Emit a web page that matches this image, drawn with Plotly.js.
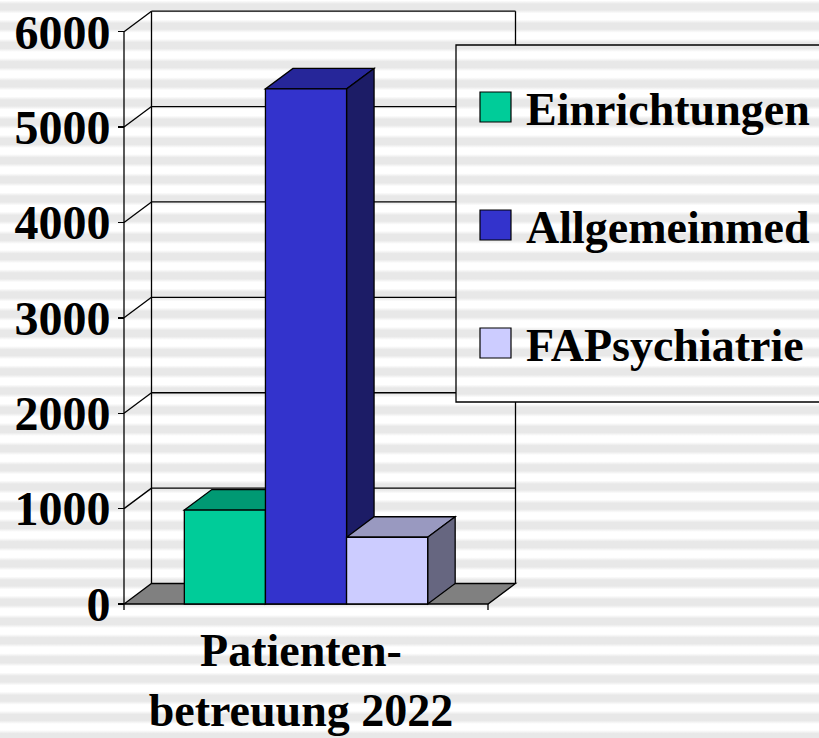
<!DOCTYPE html>
<html>
<head>
<meta charset="utf-8">
<script src="https://cdn.plot.ly/plotly-3.0.1.min.js"></script>
<style>
html, body { margin: 0; padding: 0; }
body {
  width: 819px; height: 738px; overflow: hidden;
  background: repeating-linear-gradient(to bottom,
    #ffffff 0px, #ffffff 0.5px, #e8e8e8 4px, #e8e8e8 10px, #ffffff 13.5px, #ffffff 19.2px);
}
#chart { width: 819px; height: 738px; }
</style>
</head>
<body>
<div id="chart"></div>
<script>
// ---------- data ----------
const categories = ['Patienten-betreuung 2022'];
const seriesNames = ['Einrichtungen', 'Allgemeinmed', 'FAPsychiatrie'];
const seriesValues = [985, 5400, 700];
const yTickVals = [0, 1000, 2000, 3000, 4000, 5000, 6000];

// ---------- styles ----------
const frontColors = ['#00CC99', '#3333CC', '#CCCCFF'];
const topColors   = ['#009973', '#262699', '#9999C0'];
const sideColors  = ['#007359', '#1C1C66', '#666680'];
const FLOOR_COLOR = '#808080';
const FONT = 'Liberation Serif, Times New Roman, serif';
const FONT_SIZE = 46;
const EDGE = { color: '#000000', width: 1.3 };

// ---------- layout geometry (pixels) ----------
const PX = { frontLeft: 124, frontRight: 488, zero: 604, top: 31.7,
             plotL: 114, plotR: 520, plotT: 6, plotB: 614 };
const DEPTH = { dx: 27.5, dy: 20.5 };
const BAR_GAP = 0.3315;
const LEGEND = { x0: 456, x1: 840, y0: 45, y1: 402, sqL: 480, sqR: 511, sqH: 30,
                 rowTop: 107, rowStep: 118, textX: 524 };

const yMaxTick = yTickVals[yTickVals.length - 1];
const unitPx = PX.frontRight - PX.frontLeft;
const yPx = (PX.zero - PX.top) / yMaxTick;
const px2x = p => -0.5 + (p - PX.frontLeft) / unitPx;
const py2y = p => (PX.zero - p) / yPx;
const plotW = PX.plotR - PX.plotL, plotH = PX.plotB - PX.plotT;
const ppx = p => (p - PX.plotL) / plotW;
const ppy = p => (PX.plotB - p) / plotH;
const dX = DEPTH.dx / unitPx, dY = DEPTH.dy / yPx;
const xL = -0.5, xR = 0.5;
const n = seriesValues.length;
const barW = (1 - BAR_GAP) / n;
const groupL = -(1 - BAR_GAP) / 2;

// ---------- bars (front faces) ----------
const traces = seriesValues.map((v, i) => ({
  type: 'bar',
  name: seriesNames[i],
  x: [0], y: [v],
  width: [barW],
  offset: [groupL + i * barW],
  marker: { color: frontColors[i], line: { color: '#000', width: 1.3 } },
  showlegend: false,
  cliponaxis: false,
  hovertemplate: seriesNames[i] + ': %{y}<extra></extra>'
}));

// ---------- walls, grid, floor ----------
const shapes = [];
const inLegend = py => py > LEGEND.y0 && py < LEGEND.y1;
const line = (x0, y0, x1, y1) => ({ type: 'line', xref: 'x', yref: 'y', x0, y0, x1, y1, line: EDGE, layer: 'below' });

yTickVals.forEach(t => {
  const yb = t + dY;
  const pyb = PX.zero - yb * yPx;
  if (t > 0) {
    const xEnd = inLegend(pyb) ? px2x(LEGEND.x0) : xR + dX;
    shapes.push(line(xL + dX, yb, xEnd, yb));
    shapes.push(line(xL, t, xL + dX, yb));
  }
});
// back-left vertical
shapes.push(line(xL + dX, dY, xL + dX, yMaxTick + dY));
// back-right vertical (hidden behind legend box)
shapes.push(line(xR + dX, dY, xR + dX, py2y(LEGEND.y1)));
shapes.push(line(xR + dX, py2y(LEGEND.y0), xR + dX, yMaxTick + dY));
// floor
shapes.push({ type: 'path', xref: 'x', yref: 'y', layer: 'below',
  path: `M${xL},0 L${xR},0 L${xR + dX},${dY} L${xL + dX},${dY} Z`,
  fillcolor: FLOOR_COLOR, line: EDGE });
// front value axis line
shapes.push(line(xL, 0, xL, yMaxTick));
// category boundary ticks
[xL, xR].forEach(x => shapes.push(line(x, 0, x, -6 / yPx)));

// ---------- bar tops and sides ----------
seriesValues.forEach((v, i) => {
  const l = groupL + i * barW, r = l + barW;
  shapes.push({ type: 'path', xref: 'x', yref: 'y', layer: 'below',
    path: `M${l},${v} L${r},${v} L${r + dX},${v + dY} L${l + dX},${v + dY} Z`,
    fillcolor: topColors[i], line: EDGE });
  shapes.push({ type: 'path', xref: 'x', yref: 'y', layer: 'below',
    path: `M${r},0 L${r},${v} L${r + dX},${v + dY} L${r + dX},${dY} Z`,
    fillcolor: sideColors[i], line: EDGE });
});

// ---------- legend ----------
shapes.push({ type: 'rect', xref: 'paper', yref: 'paper', layer: 'above',
  x0: ppx(LEGEND.x0), x1: ppx(LEGEND.x1), y0: ppy(LEGEND.y1), y1: ppy(LEGEND.y0),
  line: EDGE, fillcolor: 'rgba(0,0,0,0)' });
const annotations = [];
seriesNames.forEach((name, i) => {
  const cy = LEGEND.rowTop + i * LEGEND.rowStep;
  shapes.push({ type: 'rect', xref: 'paper', yref: 'paper', layer: 'above',
    x0: ppx(LEGEND.sqL), x1: ppx(LEGEND.sqR),
    y0: ppy(cy + LEGEND.sqH / 2), y1: ppy(cy - LEGEND.sqH / 2),
    fillcolor: frontColors[i], line: { color: '#000', width: 1.2 } });
  annotations.push({ xref: 'paper', yref: 'paper', x: ppx(LEGEND.textX), y: ppy(cy + 2),
    xanchor: 'left', yanchor: 'middle', showarrow: false, text: name,
    font: { family: FONT, size: FONT_SIZE, weight: 'bold', color: '#000' } });
});

const xTickFont = { family: FONT, size: FONT_SIZE, weight: 'bold', color: '#000' };
const yTickFont = { family: FONT, size: 48, weight: 'bold', color: '#000' };
const layout = {
  width: 819, height: 738, autosize: false,
  margin: { l: PX.plotL, r: 819 - PX.plotR, t: PX.plotT, b: 738 - PX.plotB, pad: 0 },
  paper_bgcolor: 'rgba(0,0,0,0)', plot_bgcolor: 'rgba(0,0,0,0)',
  barmode: 'overlay',
  showlegend: false,
  xaxis: {
    type: 'linear', range: [px2x(PX.plotL), px2x(PX.plotR)],
    anchor: 'free', position: (PX.plotB - PX.zero) / plotH,
    tickmode: 'array', tickvals: [0], ticktext: [categories[0].replace('-', '-<br>')],
    ticks: '', showgrid: false, zeroline: false, showline: false,
    tickfont: xTickFont, ticklabelstandoff: 15, ticklabelshift: -5, fixedrange: true
  },
  yaxis: {
    type: 'linear', range: [py2y(PX.plotB), py2y(PX.plotT)],
    anchor: 'free', position: (PX.frontLeft - PX.plotL) / plotW,
    tickmode: 'array', tickvals: yTickVals,
    ticks: 'outside', ticklen: 6, tickwidth: 1.3, tickcolor: '#000',
    showgrid: false, zeroline: false, showline: false,
    tickfont: yTickFont, ticklabelstandoff: -2, fixedrange: true
  },
  shapes, annotations
};

Plotly.newPlot('chart', traces, layout, { displayModeBar: false, staticPlot: true });
</script>
</body>
</html>
